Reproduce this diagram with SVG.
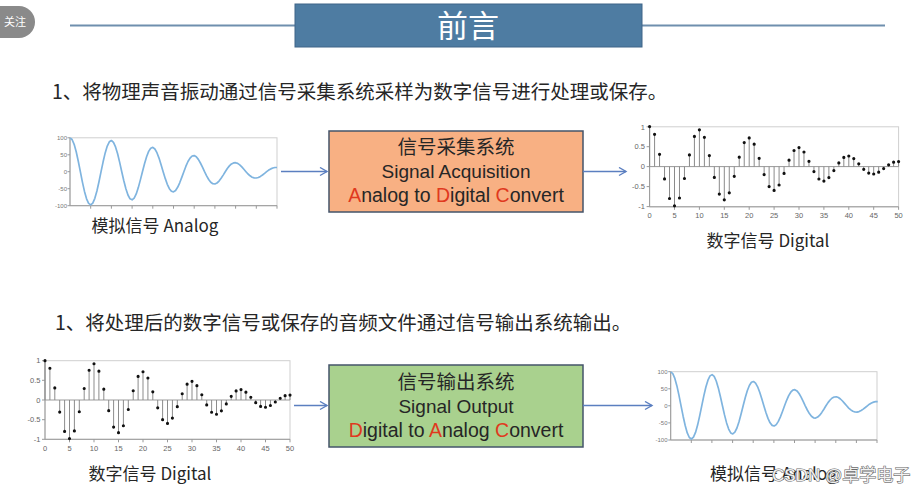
<svg xmlns="http://www.w3.org/2000/svg" xmlns:xlink="http://www.w3.org/1999/xlink" width="923" height="497" viewBox="0 0 923 497">
<style>
.cjk{font-family:"Noto Sans CJK SC","Liberation Sans",sans-serif;fill:#262626}
.lat{font-family:"Liberation Sans","Noto Sans CJK SC",sans-serif;fill:#262626}
.tick{font-family:"Liberation Sans",sans-serif;fill:#666;font-size:7.5px}
.tick6{font-family:"Liberation Sans",sans-serif;fill:#777;font-size:6px}
.frame{fill:#fff;stroke:#cfcfcf;stroke-width:1}
.axis{stroke:#999;stroke-width:1;fill:none}
.curve{fill:none;stroke:#7fb4df;stroke-width:1.7;stroke-linejoin:round}
.stem{fill:none;stroke:#8a8a8a;stroke-width:1}
.dot{fill:none;stroke:#111;stroke-width:3.2;stroke-linecap:round}
.conn{fill:none;stroke:#5b7fc0;stroke-width:1.4}
.box{stroke:#44546a;stroke-width:1.5}
.red{fill:#e0391e}
</style>
<defs>
<marker id="arr" markerWidth="10" markerHeight="10" refX="8" refY="5" orient="auto" markerUnits="userSpaceOnUse">
<path d="M1,1 L8,5 L1,9" fill="none" stroke="#5b7fc0" stroke-width="1.4"/>
</marker>
<path id="curve" class="curve" d="M0,-33.9 L2.07,-32.2 4.14,-27.4 6.21,-19.9 8.28,-10.4 10.35,0 12.42,10.4 14.49,19.7 16.56,27.1 18.63,31.7 20.7,33.2 22.77,31.4 24.84,26.6 26.91,19.3 28.98,10.1 31.05,0 33.12,-9.9 35.19,-18.8 37.26,-25.6 39.33,-29.9 41.4,-31.2 43.47,-29.4 45.54,-24.8 47.61,-17.9 49.68,-9.3 51.75,0 53.82,9.1 55.89,17.1 57.96,23.3 60.03,27.1 62.1,28.1 64.17,26.4 66.24,22.2 68.31,15.9 70.38,8.2 72.45,0 74.52,-8 76.59,-15 78.66,-20.3 80.73,-23.5 82.8,-24.3 84.87,-22.7 86.94,-19 89.01,-13.6 91.08,-7 93.15,0 95.22,6.7 97.29,12.6 99.36,17 101.43,19.6 103.5,20.2 105.57,18.8 107.64,15.6 109.71,11.1 111.78,5.7 113.85,0 115.92,-5.5 117.99,-10.2 120.06,-13.6 122.13,-15.7 124.2,-16.1 126.27,-14.9 128.34,-12.3 130.41,-8.7 132.48,-4.5 134.55,0 136.62,4.2 138.69,7.8 140.76,10.5 142.83,12 144.9,12.3 146.97,11.3 149.04,9.4 151.11,6.6 153.18,3.4 155.25,0 157.32,-3.2 159.39,-5.8 161.46,-7.8 163.53,-8.8 165.6,-9 167.67,-8.3 169.74,-6.8 171.81,-4.8 173.88,-2.4 175.95,0 178.02,2.3 180.09,4.1 182.16,5.5 184.23,6.2 186.3,6.3 188.37,5.8 190.44,4.7 192.51,3.3 194.58,1.7 196.65,0 198.72,-1.6 200.79,-2.8 202.86,-3.7 204.93,-4.2 207,-4.2"/>
<g id="stems">
<path class="axis" d="M0,0H249"/>
<path class="stem" d="M0,0V-40M4.98,0V-32.3M9.96,0V-12.3M14.94,0V12.3M19.92,0V31.9M24.9,0V39.2M29.88,0V31.4M34.86,0V11.9M39.84,0V-11.7M44.82,0V-30.2M49.8,0V-36.8M54.78,0V-29.3M59.76,0V-11M64.74,0V10.8M69.72,0V27.5M74.7,0V33.2M79.68,0V26.2M84.66,0V9.7M89.64,0V-9.4M94.62,0V-24M99.6,0V-28.7M104.58,0V-22.4M109.56,0V-8.3M114.54,0V8M119.52,0V20M124.5,0V23.8M129.48,0V18.4M134.46,0V6.8M139.44,0V-6.4M144.42,0V-16.1M149.4,0V-19M154.38,0V-14.6M159.36,0V-5.3M164.34,0V5M169.32,0V12.4M174.3,0V14.5M179.28,0V11M184.26,0V4M189.24,0V-3.7M194.22,0V-9.2M199.2,0V-10.6M204.18,0V-8M209.16,0V-2.8M214.14,0V2.7M219.12,0V6.5M224.1,0V7.4M229.08,0V5.6M234.06,0V2M239.04,0V-1.8M244.02,0V-4.4M249,0V-5"/>
<path class="dot" d="M0,-40h0M4.98,-32.3h0M9.96,-12.3h0M14.94,12.3h0M19.92,31.9h0M24.9,39.2h0M29.88,31.4h0M34.86,11.9h0M39.84,-11.7h0M44.82,-30.2h0M49.8,-36.8h0M54.78,-29.3h0M59.76,-11h0M64.74,10.8h0M69.72,27.5h0M74.7,33.2h0M79.68,26.2h0M84.66,9.7h0M89.64,-9.4h0M94.62,-24h0M99.6,-28.7h0M104.58,-22.4h0M109.56,-8.3h0M114.54,8h0M119.52,20h0M124.5,23.8h0M129.48,18.4h0M134.46,6.8h0M139.44,-6.4h0M144.42,-16.1h0M149.4,-19h0M154.38,-14.6h0M159.36,-5.3h0M164.34,5h0M169.32,12.4h0M174.3,14.5h0M179.28,11h0M184.26,4h0M189.24,-3.7h0M194.22,-9.2h0M199.2,-10.6h0M204.18,-8h0M209.16,-2.8h0M214.14,2.7h0M219.12,6.5h0M224.1,7.4h0M229.08,5.6h0M234.06,2h0M239.04,-1.8h0M244.02,-4.4h0M249,-5h0"/>
</g>
</defs>
<rect width="923" height="497" fill="#fff"/>

<g id="follow-badge">
<path d="M0,6 H19 A16,16 0 0 1 19,38 H0 Z" fill="#8a8a8a"/>
<text x="15" y="26" font-size="11" text-anchor="middle" style="font-family:'Noto Sans CJK SC',sans-serif;fill:#fff">关注</text>
</g>

<g id="title">
<path d="M70,25.5H295M642,25.5H885" stroke="#6f8fae" stroke-width="2"/>
<rect x="295" y="4" width="347" height="43" fill="#4e7ca2" stroke="#3f6488" stroke-width="1"/>
<text x="468" y="37" font-size="31" text-anchor="middle" style="font-family:'Noto Sans CJK SC',sans-serif;fill:#fff">前言</text>
</g>

<g id="step1-text">
<text class="cjk" x="52" y="99" font-size="19.5">1、将物理声音振动通过信号采集系统采样为数字信号进行处理或保存。</text>
</g>

<g id="analog-input">
<rect class="frame" x="70" y="137.8" width="207" height="67.9"/>
<path class="axis" d="M70,137.8V205.7H277M67.5,137.8H70M67.5,154.8H70M67.5,171.7H70M67.5,188.7H70M67.5,205.7H70M90.7,205.7v3M111.4,205.7v3M132.1,205.7v3M152.8,205.7v3M173.5,205.7v3M194.2,205.7v3M214.9,205.7v3M235.6,205.7v3M256.3,205.7v3M277,205.7v3"/>
<use href="#curve" xlink:href="#curve" transform="translate(70,171.7)"/>
<text class="tick6" x="67" y="140" text-anchor="end">100</text>
<text class="tick6" x="67" y="157" text-anchor="end">50</text>
<text class="tick6" x="67" y="174" text-anchor="end">0</text>
<text class="tick6" x="67" y="191" text-anchor="end">-50</text>
<text class="tick6" x="67" y="208" text-anchor="end">-100</text>
<text class="cjk" x="155" y="232" font-size="17" text-anchor="middle">模拟信号 Analog</text>
</g>

<g id="adc-box">
<rect class="box" x="329" y="131" width="254" height="81" fill="#f8b083"/>
<text class="cjk" x="456" y="154" font-size="19.5" text-anchor="middle">信号采集系统</text>
<text class="lat" x="456" y="178" font-size="19" text-anchor="middle">Signal Acquisition</text>
<text class="lat" x="456" y="202" font-size="19.5" text-anchor="middle"><tspan class="red">A</tspan>nalog to <tspan class="red">D</tspan>igital <tspan class="red">C</tspan>onvert</text>
</g>

<g id="digital-output">
<rect class="frame" x="649.6" y="126.8" width="249" height="80"/>
<path class="axis" d="M649.6,126.8V206.8H898.6M646.6,126.8h3M646.6,146.7h3M646.6,166.6h3M646.6,186.6h3M646.6,206.6h3M674.5,206.8v3M699.4,206.8v3M724.3,206.8v3M749.2,206.8v3M774.1,206.8v3M799,206.8v3M823.9,206.8v3M848.8,206.8v3M873.7,206.8v3M898.6,206.8v3"/>
<use href="#stems" xlink:href="#stems" transform="translate(649.6,166.6)"/>
<text class="tick" x="645" y="129.5" text-anchor="end">1</text>
<text class="tick" x="645" y="149.4" text-anchor="end">0.5</text>
<text class="tick" x="645" y="169.3" text-anchor="end">0</text>
<text class="tick" x="645" y="189.3" text-anchor="end">-0.5</text>
<text class="tick" x="645" y="209.3" text-anchor="end">-1</text>
<text class="tick" x="649.6" y="218" text-anchor="middle">0</text>
<text class="tick" x="674.5" y="218" text-anchor="middle">5</text>
<text class="tick" x="699.4" y="218" text-anchor="middle">10</text>
<text class="tick" x="724.3" y="218" text-anchor="middle">15</text>
<text class="tick" x="749.2" y="218" text-anchor="middle">20</text>
<text class="tick" x="774.1" y="218" text-anchor="middle">25</text>
<text class="tick" x="799" y="218" text-anchor="middle">30</text>
<text class="tick" x="823.9" y="218" text-anchor="middle">35</text>
<text class="tick" x="848.8" y="218" text-anchor="middle">40</text>
<text class="tick" x="873.7" y="218" text-anchor="middle">45</text>
<text class="tick" x="898.6" y="218" text-anchor="middle">50</text>
<text class="cjk" x="768" y="247" font-size="17" text-anchor="middle">数字信号 Digital</text>
</g>

<g id="step2-text">
<text class="cjk" x="55" y="330" font-size="19.5">1、将处理后的数字信号或保存的音频文件通过信号输出系统输出。</text>
</g>

<g id="digital-input">
<rect class="frame" x="45" y="360.7" width="245" height="78.6"/>
<path class="axis" d="M45,360.7V439.3H290M42,360.7h3M42,380.3h3M42,400h3M42,419.7h3M42,439.3h3M69.5,439.3v3M94,439.3v3M118.5,439.3v3M143,439.3v3M167.5,439.3v3M192,439.3v3M216.5,439.3v3M241,439.3v3M265.5,439.3v3M290,439.3v3"/>
<use href="#stems" xlink:href="#stems" transform="translate(45,400) scale(0.984)"/>
<text class="tick" x="40.5" y="363.4" text-anchor="end">1</text>
<text class="tick" x="40.5" y="383" text-anchor="end">0.5</text>
<text class="tick" x="40.5" y="402.7" text-anchor="end">0</text>
<text class="tick" x="40.5" y="422.4" text-anchor="end">-0.5</text>
<text class="tick" x="40.5" y="442" text-anchor="end">-1</text>
<text class="tick" x="45" y="450.5" text-anchor="middle">0</text>
<text class="tick" x="69.5" y="450.5" text-anchor="middle">5</text>
<text class="tick" x="94" y="450.5" text-anchor="middle">10</text>
<text class="tick" x="118.5" y="450.5" text-anchor="middle">15</text>
<text class="tick" x="143" y="450.5" text-anchor="middle">20</text>
<text class="tick" x="167.5" y="450.5" text-anchor="middle">25</text>
<text class="tick" x="192" y="450.5" text-anchor="middle">30</text>
<text class="tick" x="216.5" y="450.5" text-anchor="middle">35</text>
<text class="tick" x="241" y="450.5" text-anchor="middle">40</text>
<text class="tick" x="265.5" y="450.5" text-anchor="middle">45</text>
<text class="tick" x="290" y="450.5" text-anchor="middle">50</text>
<text class="cjk" x="150" y="480" font-size="17" text-anchor="middle">数字信号 Digital</text>
</g>

<g id="dac-box">
<rect class="box" x="329" y="365" width="254" height="82" fill="#a9d18e"/>
<text class="cjk" x="456" y="389" font-size="19.5" text-anchor="middle">信号输出系统</text>
<text class="lat" x="456" y="413" font-size="19" text-anchor="middle">Signal Output</text>
<text class="lat" x="456" y="437" font-size="19.5" text-anchor="middle"><tspan class="red">D</tspan>igital to <tspan class="red">A</tspan>nalog <tspan class="red">C</tspan>onvert</text>
</g>

<g id="analog-output">
<rect class="frame" x="670.7" y="371.7" width="206.3" height="68.3"/>
<path class="axis" d="M670.7,371.7V440H877M668.2,371.7h2.5M668.2,388.8h2.5M668.2,405.8h2.5M668.2,422.9h2.5M668.2,440h2.5M691.3,440v3M711.9,440v3M732.6,440v3M753.2,440v3M773.9,440v3M794.5,440v3M815.1,440v3M835.8,440v3M856.4,440v3M877,440v3"/>
<use href="#curve" xlink:href="#curve" transform="translate(670.7,405.8)"/>
<text class="tick6" x="667.5" y="374" text-anchor="end">100</text>
<text class="tick6" x="667.5" y="391" text-anchor="end">50</text>
<text class="tick6" x="667.5" y="408" text-anchor="end">0</text>
<text class="tick6" x="667.5" y="425" text-anchor="end">-50</text>
<text class="tick6" x="667.5" y="442" text-anchor="end">-100</text>
<text class="cjk" x="710" y="480" font-size="17">模拟信号 Analog</text>
</g>

<g id="connectors">
<path class="conn" d="M281,171.5H327" marker-end="url(#arr)"/>
<path class="conn" d="M583,171.5H626" marker-end="url(#arr)"/>
<path class="conn" d="M294,405.5H327" marker-end="url(#arr)"/>
<path class="conn" d="M583,405.5H652" marker-end="url(#arr)"/>
</g>

<g id="watermark">
<text x="772" y="481" font-size="17" stroke="#6a6a6a" stroke-width="1.2" paint-order="stroke" style="font-family:'Liberation Sans','Noto Sans CJK SC',sans-serif;fill:#f2f2f2">CSDN @卓学电子</text>
</g>
</svg>
